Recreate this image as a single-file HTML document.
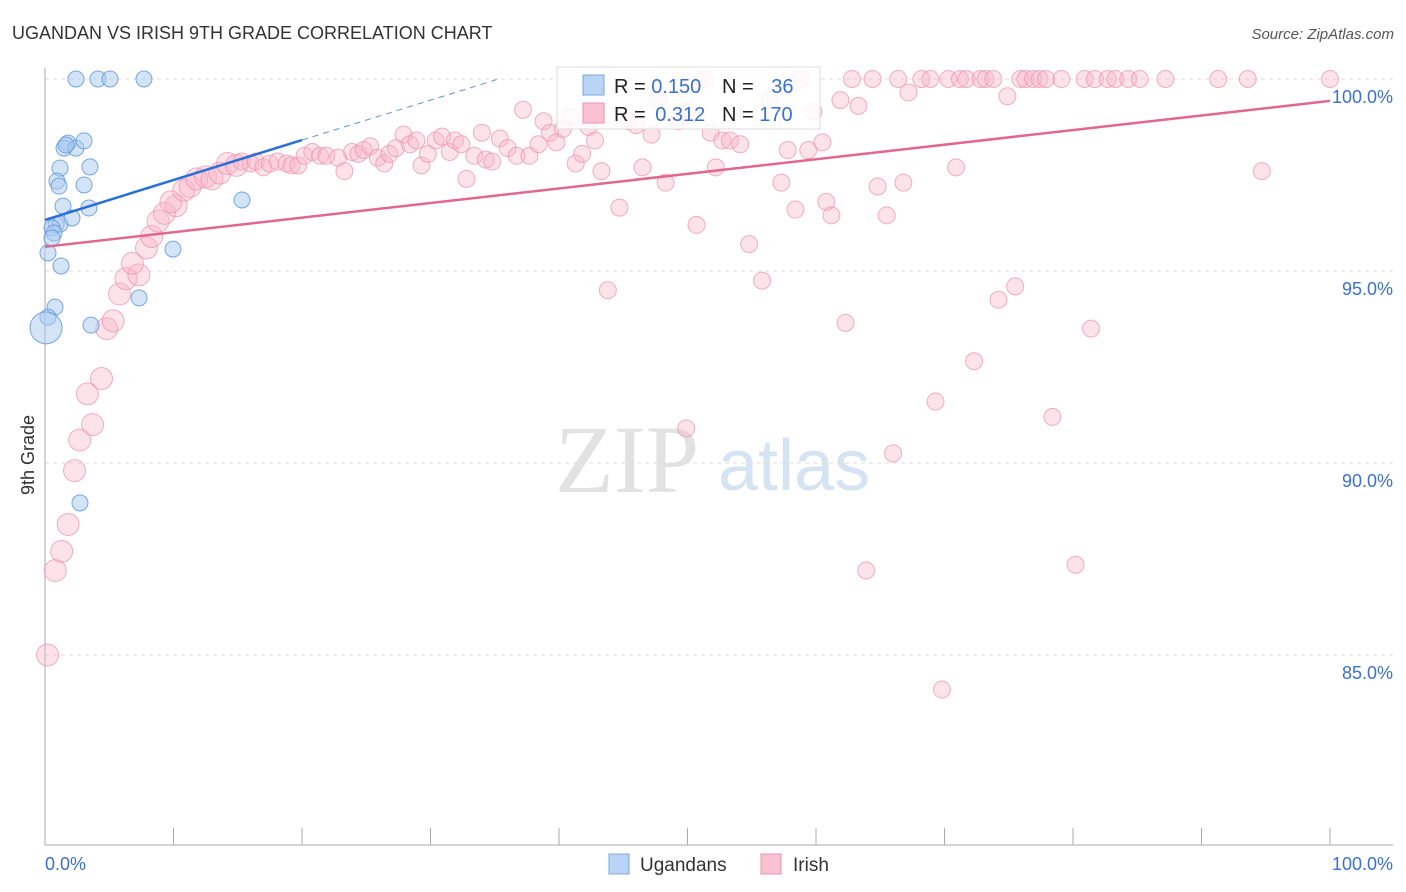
<!DOCTYPE html>
<html><head><meta charset="utf-8"><style>
body{margin:0;background:#fff;font-family:"Liberation Sans",sans-serif;}
#wrap{position:relative;width:1406px;height:892px;overflow:hidden;}
</style></head><body>
<div id="wrap">
<svg id="svg" width="1406" height="892" xmlns="http://www.w3.org/2000/svg">
<text x="12" y="39" font-size="18" fill="#333">UGANDAN VS IRISH 9TH GRADE CORRELATION CHART</text>
<text x="1394" y="39" font-size="15" fill="#555" font-style="italic" text-anchor="end">Source: ZipAtlas.com</text>
<text x="555" y="492" font-size="96" fill="#e2e2e2" font-family="Liberation Serif,serif">ZIP</text>
<text x="718" y="490" font-size="72" fill="#d6e3f3">atlas</text>
<text transform="translate(34,455) rotate(-90)" font-size="18" fill="#333" text-anchor="middle">9th Grade</text>
<g id="grid"></g><g id="pts"></g><g id="lines"></g>
<g>
<rect x="557" y="67" width="263" height="62" fill="#fff" fill-opacity="0.85" stroke="#ddd"/>
<rect x="583" y="75" width="21" height="20" fill="#b9d4f4" stroke="#7aa8e0"/>
<rect x="583" y="103" width="21" height="20" fill="#f9c2d2" stroke="#ee93ae"/>
<text x="614" y="93" font-size="20" fill="#222">R = <tspan fill="#3b6fd0">0.150</tspan></text>
<text x="722" y="93" font-size="20" fill="#222">N = <tspan fill="#3b6fd0" dx="12">36</tspan></text>
<text x="614" y="121" font-size="20" fill="#222">R = <tspan fill="#3b6fd0" dx="4">0.312</tspan></text>
<text x="722" y="121" font-size="20" fill="#222">N = <tspan fill="#3b6fd0">170</tspan></text>
</g>
<g>
<rect x="609" y="854" width="20" height="20" fill="#b9d4f4" stroke="#7aa8e0"/>
<text x="640" y="871" font-size="19" fill="#333">Ugandans</text>
<rect x="761" y="854" width="20" height="20" fill="#f9c2d2" stroke="#ee93ae"/>
<text x="793" y="871" font-size="19" fill="#333">Irish</text>
</g>
</svg>
</div>
<script>
const yTicks=[100,95,90,85];
const yTickLabels=["100.0%","95.0%","90.0%","85.0%"];
const xTicks=[0,10,20,30,40,50,60,70,80,90,100];
const xEndLabels=["0.0%","100.0%"];
const ugX=[2.41,4.12,5.06,7.70,1.79,1.48,2.41,3.04,1.17,3.50,0.93,1.09,3.04,1.40,3.42,0.86,1.17,2.10,0.54,0.70,0.54,0.23,1.25,15.33,9.96,7.32,0.78,0.23,3.58,0.08,2.72,1.63];
const ugY=[100,100,100,100,98.33,98.20,98.20,98.39,97.68,97.71,97.34,97.21,97.24,96.69,96.64,96.20,96.22,96.38,96.12,95.99,95.86,95.47,95.13,96.85,95.57,94.30,94.06,93.80,93.59,93.52,88.96,98.28];
const ugBig=[0,0,0,0,0,0,0,0,0,0,0,0,0,0,0,0,0,0,0,0,0,0,0,0,0,0,0,0,0,1,0,0];
const irX=[0.2,0.8,1.3,1.8,2.3,2.7,3.7,3.3,4.4,4.8,5.3,5.8,6.3,7.3,6.8,7.9,8.3,8.8,9.3,10.2,9.8,10.8,11.3,11.8,12.5,13.0,13.6,14.2,14.9,15.3,16.0,16.4,17.0,17.5,18.1,18.8,19.2,19.7,20.2,20.8,21.4,21.9,22.8,23.3,23.9,24.4,24.8,25.3,25.9,26.4,26.8,27.3,27.9,28.4,28.9,29.3,29.8,30.4,30.9,31.5,31.9,32.4,32.8,33.4,34.0,34.3,34.8,35.4,36.0,36.7,37.2,37.7,38.4,38.8,39.3,39.8,40.3,40.9,41.3,41.8,42.3,42.8,43.3,43.8,44.7,45.4,46.0,46.5,47.2,47.7,48.3,49.3,50.0,50.7,51.3,51.8,52.2,52.7,53.3,54.1,54.8,55.8,56.4,57.3,57.8,58.4,58.8,59.4,59.8,60.5,60.8,61.2,61.9,62.3,62.8,63.3,63.9,64.4,64.8,65.5,66.0,66.4,66.8,67.2,68.2,68.9,69.3,69.8,70.3,70.9,71.2,71.7,72.3,72.8,73.2,73.8,74.2,74.9,75.5,75.9,76.3,76.9,77.4,77.9,78.4,79.1,80.2,80.9,81.4,81.7,82.7,83.3,84.3,85.2,87.2,91.3,93.6,94.7,100,49.9];
const irY=[85.0,87.2,87.7,88.4,89.8,90.6,91.0,91.8,92.2,93.5,93.7,94.4,94.8,94.9,95.2,95.6,95.9,96.3,96.5,96.7,96.8,97.1,97.2,97.4,97.45,97.4,97.55,97.8,97.75,97.85,97.8,97.85,97.7,97.8,97.85,97.8,97.75,97.75,98.0,98.1,98.0,98.0,97.95,97.6,98.1,98.05,98.15,98.25,97.95,97.8,98.05,98.2,98.55,98.3,98.4,97.75,98.05,98.4,98.5,98.1,98.4,98.3,97.4,98.0,98.6,97.9,97.85,98.45,98.2,98.0,99.2,98.0,98.3,98.9,98.6,98.35,98.7,99.0,97.8,98.05,98.75,98.4,97.6,94.5,96.65,98.9,98.8,97.7,98.55,99.45,97.3,98.9,99.2,96.2,100,98.6,97.7,98.4,98.4,98.3,95.7,94.75,99.45,97.3,98.15,96.6,100,98.15,99.15,98.35,96.8,96.45,99.45,93.65,100,99.3,87.2,100,97.2,96.45,90.25,100,97.3,99.65,100,100,91.6,84.1,100,97.7,100,100,92.65,100,100,100,94.25,99.55,94.6,100,100,100,100,100,91.2,100,87.35,100,93.5,100,100,100,100,100,100,100,100,97.6,100,90.9];
const ugTrend=[[0,96.33],[20,98.41]];
const ugTrendExt=[[20,98.41],[35.3,100]];
const irTrend=[[0,95.63],[100,99.43]];
const NS="http://www.w3.org/2000/svg";
const X0=45,X1=1330,Y100=79,PXPER=38.4;
const sx=v=>X0+(X1-X0)*v/100;
const sy=v=>Y100+(100-v)*PXPER;
function mk(tag,attrs,parent){const e=document.createElementNS(NS,tag);for(const k in attrs)e.setAttribute(k,attrs[k]);parent.appendChild(e);return e;}
const grid=document.getElementById('grid'),pts=document.getElementById('pts'),lines=document.getElementById('lines');
yTicks.forEach((t,i)=>{
 const l=mk('line',{x1:45,x2:1393,y1:sy(t),y2:sy(t),stroke:'#ddd','stroke-dasharray':'4,4'},grid);
 
 
 const tx=mk('text',{x:1393,y:sy(t)+24,'font-size':18,fill:'#3b6fd0','text-anchor':'end'},grid);
 tx.textContent=yTickLabels[i];
 
 
});
const ax=mk('line',{x1:45,x2:45,y1:68,y2:845,stroke:'#aaa'},grid);


const bx=mk('line',{x1:45,x2:1393,y1:845,y2:845,stroke:'#aaa'},grid);


xTicks.forEach(t=>{
 const l=mk('line',{x1:sx(t),x2:sx(t),y1:828,y2:845,stroke:'#aaa'},grid);
 
 
});
const xl0=mk('text',{x:45,y:870,'font-size':18,fill:'#3b6fd0'},grid);xl0.textContent=xEndLabels[0];


const xl1=mk('text',{x:1393,y:870,'font-size':18,fill:'#3b6fd0','text-anchor':'end'},grid);xl1.textContent=xEndLabels[1];


irX.forEach((v,i)=>{
 const c=mk('circle',{cx:sx(v),cy:sy(irY[i]),r:v<15?11:8.5,fill:'#f7b6c9','fill-opacity':0.4,stroke:'#ec8fab','stroke-opacity':0.7,'stroke-width':1},pts);
 
 
});
ugX.forEach((v,i)=>{
 const c=mk('circle',{cx:sx(v),cy:sy(ugY[i]),r:ugBig[i]?16:8,fill:'#a9c9f0','fill-opacity':0.5,stroke:'#5b92db','stroke-opacity':0.8,'stroke-width':1},pts);
 
 
});
const l1=mk('line',{x1:sx(ugTrend[0][0]),y1:sy(ugTrend[0][1]),x2:sx(ugTrend[1][0]),y2:sy(ugTrend[1][1]),stroke:'#2a6fd6','stroke-width':2.5},lines);


const l2=mk('line',{x1:sx(ugTrendExt[0][0]),y1:sy(ugTrendExt[0][1]),x2:sx(ugTrendExt[1][0]),y2:sy(ugTrendExt[1][1]),stroke:'#5b92db','stroke-width':1,'stroke-dasharray':'6,5'},lines);


const l3=mk('line',{x1:sx(irTrend[0][0]),y1:sy(irTrend[0][1]),x2:sx(irTrend[1][0]),y2:sy(irTrend[1][1]),stroke:'#e2678f','stroke-width':2.5},lines);


</script>
</body></html>
